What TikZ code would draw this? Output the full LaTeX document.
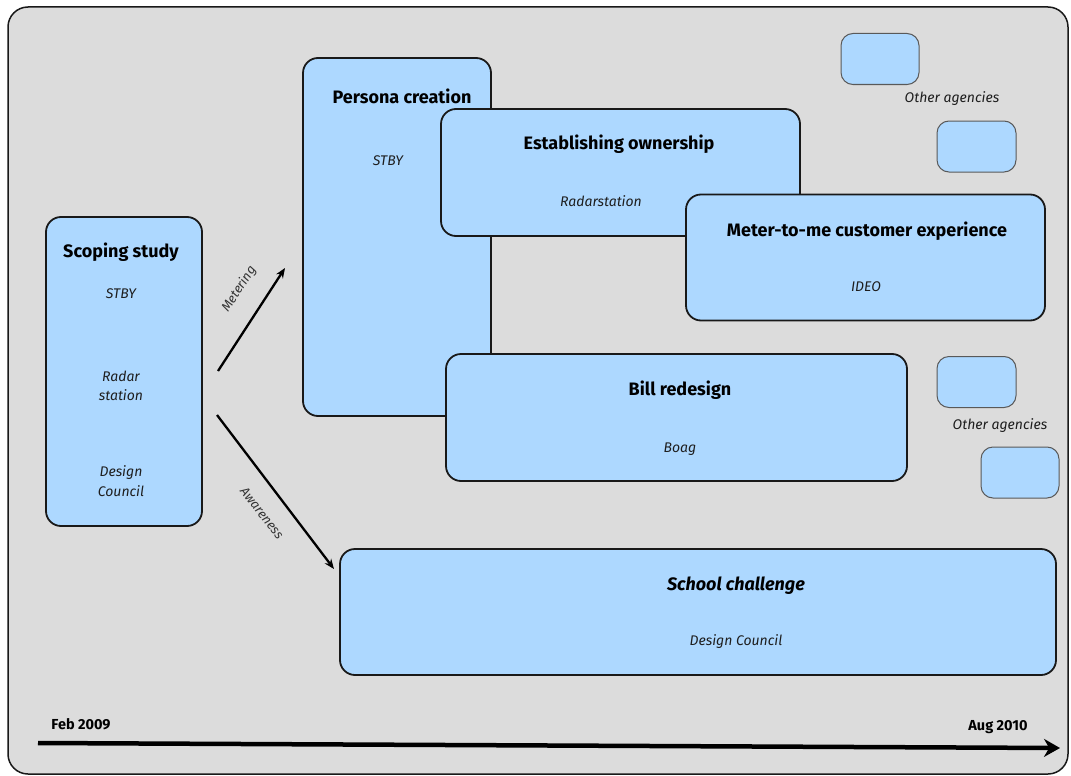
\documentclass[tikz,border=0pt]{standalone}
\usepackage{fontspec}
\setmainfont{Fira Sans}
\usetikzlibrary{arrows.meta}
\definecolor{bggray}{RGB}{220,220,220}
\definecolor{boxblue}{RGB}{173,216,255}
\definecolor{subtxt}{RGB}{30,30,30}
\tikzset{
  bigbox/.style={draw=black!90, line width=1.8pt, fill=boxblue, rounded corners=15pt, inner sep=0pt},
  smallbox/.style={draw=black!65, line width=1pt, fill=boxblue, rounded corners=12pt, inner sep=0pt},
  titletxt/.style={font=\fontsize{18}{20}\selectfont\bfseries, text=black, inner sep=0pt},
  subtitle/.style={font=\fontsize{14}{19.5}\selectfont\itshape, text=subtxt, inner sep=0pt, align=center},
  datetxt/.style={font=\fontsize{14.5}{16}\selectfont\bfseries, text=black, inner sep=0pt},
  flowarrow/.style={line width=2.3pt, -{Stealth[length=10pt,width=8pt]}},
  arrowlabel/.style={font=\fontsize{13}{15}\selectfont\itshape, text=black!80, inner sep=0pt}
}
\begin{document}
\begin{tikzpicture}[x=1pt,y=-1pt]
\useasboundingbox (0,0) rectangle (1071,776);
\draw[fill=bggray, draw=black!90, line width=1.5pt, rounded corners=20pt] (8,7) rectangle (1068,774);

% Scoping study
\node[bigbox, minimum width=156pt, minimum height=309pt] (scope) at (124,371.5) {};
\node[titletxt] (scopet) at (121,252) {Scoping study};
\node[subtitle] (scope1) at (121,294) {STBY};
\node[subtitle] (scope2) at (121,386) {Radar\\station};
\node[subtitle] (scope3) at (121,481) {Design\\Council};

% Persona creation
\node[bigbox, minimum width=188pt, minimum height=358pt] (persona) at (397,237) {};
\node[titletxt] (personat) at (402,96) {Persona creation};
\node[subtitle] (persona1) at (388,161) {STBY};

% Establishing ownership
\node[bigbox, minimum width=359pt, minimum height=127pt] (own) at (620.5,172.5) {};
\node[titletxt] (ownt) at (619,144) {Establishing ownership};
\node[subtitle] (own1) at (601,201) {Radarstation};

% Meter-to-me
\node[bigbox, minimum width=359pt, minimum height=126pt] (meter) at (865.5,257.5) {};
\node[titletxt] (metert) at (867,231) {Meter-to-me customer experience};
\node[subtitle] (meter1) at (866,287) {IDEO};

% Bill redesign
\node[bigbox, minimum width=461pt, minimum height=127pt] (bill) at (676.5,417.5) {};
\node[titletxt] (billt) at (680,390) {Bill redesign};
\node[subtitle] (bill1) at (680,449) {Boag};

% School challenge
\node[bigbox, minimum width=716pt, minimum height=126pt] (school) at (698,612) {};
\node[titletxt, font=\fontsize{18}{20}\selectfont\bfseries\itshape] (schoolt) at (736,586) {School challenge};
\node[subtitle] (school1) at (736,642) {Design Council};

% Other agencies
\node[smallbox, minimum width=78pt, minimum height=51pt] (ag1) at (880,59) {};
\node[smallbox, minimum width=79pt, minimum height=51pt] (ag2) at (976.5,146.5) {};
\node[subtitle] (agl1) at (952,99) {Other agencies};
\node[smallbox, minimum width=79pt, minimum height=51pt] (ag3) at (976.5,382) {};
\node[smallbox, minimum width=78pt, minimum height=51pt] (ag4) at (1020,472.5) {};
\node[subtitle] (agl2) at (1000,426) {Other agencies};

% Arrows
\coordinate (mstart) at (218,371);
\coordinate (mend) at (285,268);
\coordinate (astart) at (217,415);
\coordinate (aend) at (334,569);
\draw[flowarrow] (mstart) -- (mend);
\draw[flowarrow] (astart) -- (aend);
\node[arrowlabel, rotate=57] (mlab) at (239,289) {Metering};
\node[arrowlabel, rotate=-52] (alab) at (262,513) {Awareness};

% Timeline
\coordinate (tstart) at (38,743);
\coordinate (tend) at (1060,748);
\draw[line width=4.5pt, -{Stealth[length=16pt,width=18pt]}] (tstart) -- (tend);
\node[datetxt] (feb) at (81,724) {Feb 2009};
\node[datetxt] (aug) at (998,727) {Aug 2010};
\end{tikzpicture}
\end{document}
